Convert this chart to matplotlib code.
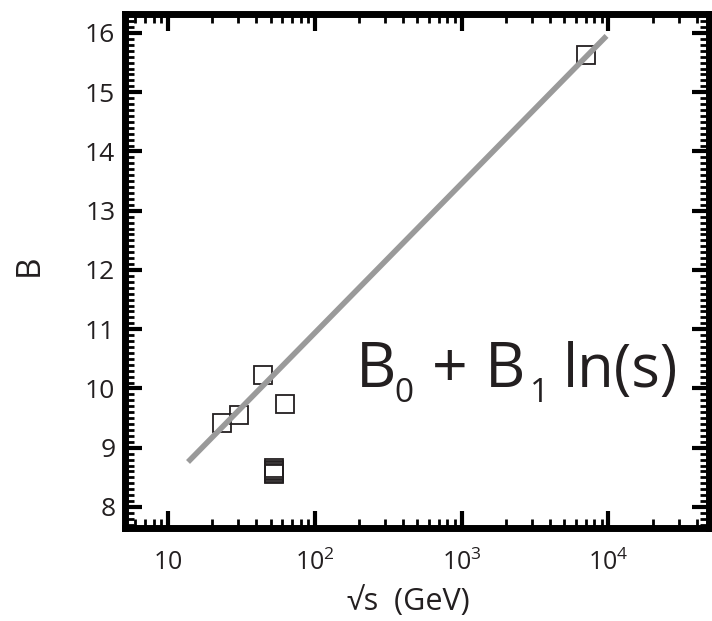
import matplotlib
matplotlib.use("Agg")
import matplotlib.pyplot as plt
from matplotlib.ticker import FixedLocator, FixedFormatter, LogLocator, MultipleLocator, NullFormatter

################################################################################
# Data.                                                   #
################################################################################

sqrt_s = [23.5, 30.6, 44.7, 62.5,
          52.8, 52.8, 52.8, 52.8, 52.8,
          7000.0]
B      = [9.41, 9.56, 10.22, 9.73,
          8.55, 8.57, 8.60, 8.62, 8.65,
          15.63]

fit_x = [13.7, 9700.0]
fit_y = [8.76, 15.95]

xticks      = [10, 100, 1000, 10000]
xticklabels = ['$10$', '$10^2$', '$10^3$', '$10^4$']
yticks      = [8, 9, 10, 11, 12, 13, 14, 15, 16]

################################################################################
# Plot.                                                                        #
################################################################################

plt.rcParams['font.family'] = ['Open Sans', 'DejaVu Sans']
plt.rcParams['mathtext.default'] = 'regular'
ink = '#231f20'

W, H = 712, 621
fig = plt.figure(figsize=(W / 100, H / 100), dpi=100)
ax = fig.add_axes([125 / W, 1 - 527.5 / H, 583.5 / W, 513.5 / H])

ax.plot(sqrt_s, B, 's', ms=12.5, mfc='none', mec=ink, mew=1.3, zorder=2)
ax.plot(fit_x, fit_y, '-', color='#9a9a9a', lw=4, solid_capstyle='butt', zorder=3)

ax.set_xscale('log')
ax.set_xlim(5.1, 4.8e4)
ax.set_ylim(7.654, 16.32)

ax.xaxis.set_major_locator(FixedLocator(xticks))
ax.xaxis.set_major_formatter(FixedFormatter(xticklabels))
ax.xaxis.set_minor_locator(LogLocator(base=10, subs=range(2, 10), numticks=20))
ax.xaxis.set_minor_formatter(NullFormatter())
ax.yaxis.set_major_locator(FixedLocator(yticks))
ax.yaxis.set_minor_locator(MultipleLocator(0.1))

for sp in ax.spines.values():
    sp.set_linewidth(5)
    sp.set_color('black')
ax.tick_params(which='both', direction='in', top=True, right=True, color='black')
ax.tick_params(which='major', length=12, width=3)
ax.tick_params(which='minor', length=6.5, width=2)
ax.tick_params(axis='x', which='major', labelsize=18, pad=16, labelcolor=ink)
ax.tick_params(axis='y', which='major', labelsize=19, pad=7, labelcolor=ink)

ax.set_xlabel('\u221as  (GeV)', fontsize=22, color=ink)
ax.xaxis.set_label_coords(0.485, -0.115)
ax.set_ylabel('B', fontsize=24, color=ink)
ax.yaxis.set_label_coords(-0.135, 0.51)

# Formula written in pieces to get the small, low subscripts.
def put(px, py, s, size):
    fig.text(px / W, 1 - py / H, s, fontsize=size, color=ink, ha='left', va='baseline')

put(356, 387, 'B', 45)
put(394, 402, '0', 24)
put(432, 387, '+', 45)
put(485, 387, 'B', 45)
put(530, 402, '1', 24)
put(563, 387, 'ln(s)', 43)

fig.savefig('out.png', dpi=100)
plt.close()
